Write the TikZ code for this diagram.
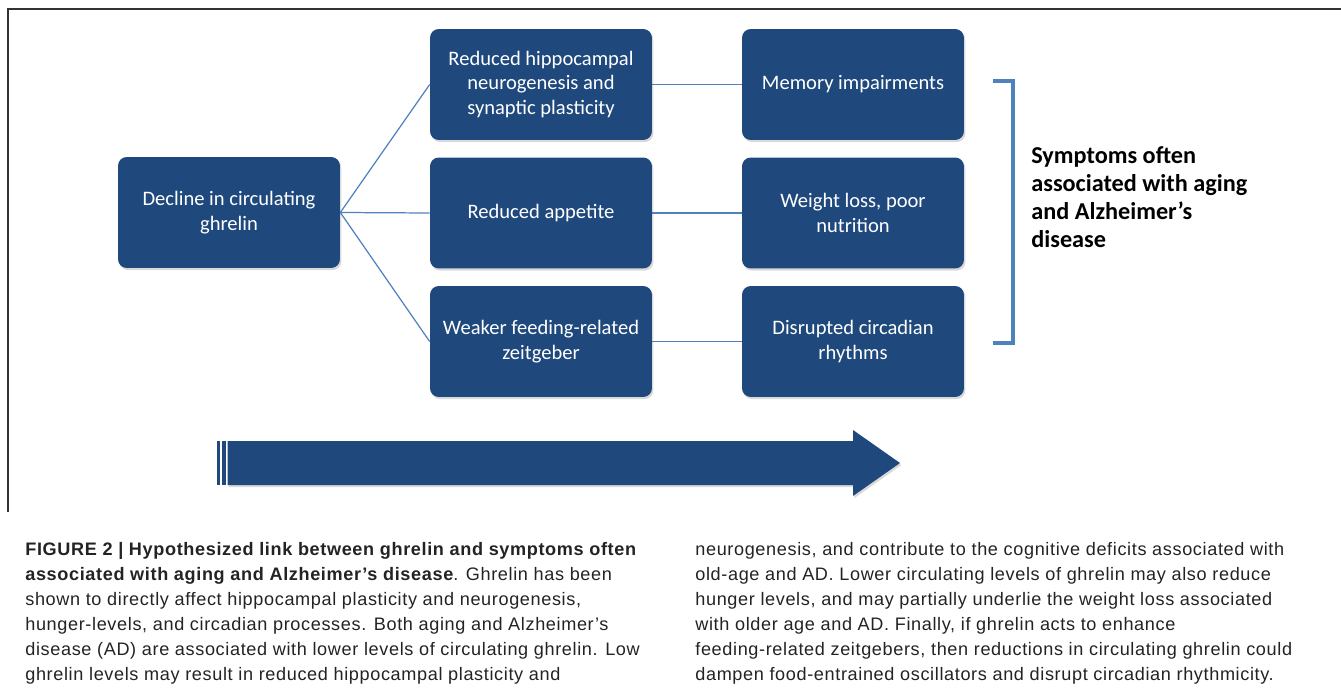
\documentclass[tikz,border=0pt]{standalone}
\usepackage{fontspec}
\setmainfont{Carlito}
\newfontfamily\capfont[LetterSpace=3.5]{Liberation Sans}
\usepackage{tikz}
\usetikzlibrary{positioning, shadows, calc}
\definecolor{boxblue}{RGB}{31,73,125}
\definecolor{linkblue}{RGB}{79,129,189}
\definecolor{captiongray}{RGB}{35,35,35}

\begin{document}
\begin{tikzpicture}[x=0.02cm, y=-0.02cm,
    effectbox/.style={rectangle, rounded corners=5pt, fill=boxblue, text=white,
        minimum width=4.44cm, minimum height=2.22cm, align=center, inner sep=2pt,
        font=\fontsize{11.7}{13.9}\selectfont,
        drop shadow={shadow xshift=0.8pt, shadow yshift=-1.2pt, opacity=0.3}},
    link/.style={linkblue, line width=0.7pt},
    captext/.style={anchor=north west, inner sep=0pt, align=left, text=captiongray,
        font=\capfont\fontsize{10.3}{14.2}\selectfont}]
    \useasboundingbox (0,0) rectangle (1341,689);

    % Frame
    \draw[black!80, line width=0.8pt] (8,512) -- (8,9) -- (1341,9);

    % Decline box
    \node[effectbox] (decline) at (229,212.5) {Decline in circulating\\ghrelin};

    % Middle column
    \node[effectbox] (neuro) at (541,84.5) {Reduced hippocampal\\neurogenesis and\\synaptic plasticity};
    \node[effectbox] (appetite) at (541,213) {Reduced appetite};
    \node[effectbox] (zeit) at (541,341.5) {Weaker feeding-related\\zeitgeber};

    % Right column
    \node[effectbox] (memory) at (853,84.5) {Memory impairments};
    \node[effectbox] (weight) at (853,213) {Weight loss, poor\\nutrition};
    \node[effectbox] (circ) at (853,341.5) {Disrupted circadian\\rhythms};

    % Links
    \draw[link] (decline.east) -- (neuro.west);
    \draw[link] (decline.east) -- (appetite.west);
    \draw[link] (decline.east) -- (zeit.west);
    \draw[link] (neuro) -- (memory);
    \draw[link] (appetite) -- (weight);
    \draw[link] (zeit) -- (circ);

    % Bracket
    \draw[linkblue, line width=1.8pt] (993,81) -- (1013,81) -- (1013,343) -- (993,343);
    \node[anchor=west, align=left, inner sep=0pt, font=\bfseries\fontsize{13.8}{16}\selectfont]
        (symptoms) at (1031,197) {Symptoms often\\associated with aging\\and Alzheimer’s\\disease};

    % Striped arrow
    \fill[boxblue] (217,441) rectangle (220,485);
    \fill[boxblue] (222,441) rectangle (225.5,485);
    \fill[boxblue, drop shadow={shadow xshift=0.8pt, shadow yshift=-1.2pt, opacity=0.3}]
        (227.5,441) -- (853,441) -- (853,430) -- (900,463) -- (853,496) -- (853,485) -- (227.5,485) -- cycle;

    % Caption
    \node[captext] (capleft) at (25,542) {\textbf{FIGURE 2 | Hypothesized link between ghrelin and symptoms often}\\
        \textbf{associated with aging and Alzheimer’s disease}. Ghrelin has been\\
        shown to directly affect hippocampal plasticity and neurogenesis,\\
        hunger-levels, and circadian processes. Both aging and Alzheimer’s\\
        disease (AD) are associated with lower levels of circulating ghrelin. Low\\
        ghrelin levels may result in reduced hippocampal plasticity and};
    \node[captext] (capright) at (695,542) {neurogenesis, and contribute to the cognitive deficits associated with\\
        old-age and AD. Lower circulating levels of ghrelin may also reduce\\
        hunger levels, and may partially underlie the weight loss associated\\
        with older age and AD. Finally, if ghrelin acts to enhance\\
        feeding-related zeitgebers, then reductions in circulating ghrelin could\\
        dampen food-entrained oscillators and disrupt circadian rhythmicity.};
\end{tikzpicture}
\end{document}
